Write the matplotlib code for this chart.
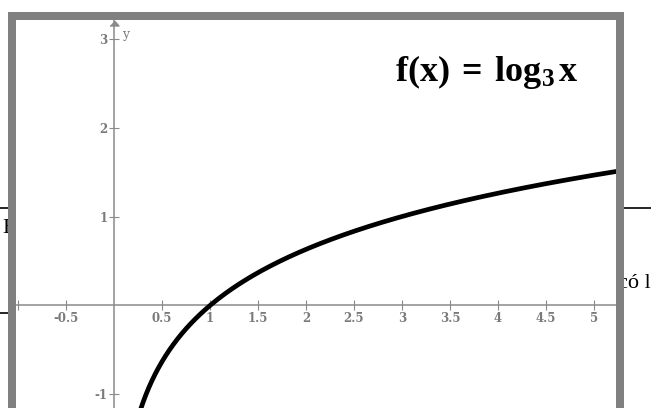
import numpy as np
import matplotlib
matplotlib.use("Agg")
import matplotlib.pyplot as plt
from matplotlib.patches import Rectangle
from matplotlib import transforms

# ---- data ---------------------------------------------------------------
base = 3
title_text = r"$\mathbf{f(x)\;=\;log_{3}\,x}$"
x_ticks = [-1, -0.5, 0.5, 1, 1.5, 2, 2.5, 3, 3.5, 4, 4.5, 5]
x_tick_labels = ["", "-0.5", "0.5", "1", "1.5", "2", "2.5", "3", "3.5", "4", "4.5", "5"]
y_ticks = [-1, 1, 2, 3]
y_tick_labels = ["-1", "1", "2", "3"]
x_range = (-1.0208, 5.2292)
y_range = (-1.1517, 3.2079)

# ---- style --------------------------------------------------------------
W, H = 651, 408
frame_color = "#808080"
axis_color = "#8a8a8a"
label_color = "#7a7a7a"

plt.rcParams["mathtext.fontset"] = "custom"
plt.rcParams["mathtext.rm"] = "Liberation Serif"
plt.rcParams["mathtext.bf"] = "Liberation Serif:bold"
plt.rcParams["mathtext.it"] = "Liberation Serif:italic"

fig = plt.figure(figsize=(W / 100, H / 100), dpi=100)
fig.patch.set_facecolor("white")

# page content behind the plot panel
bg = fig.add_axes([0, 0, 1, 1], zorder=0)
bg.set_xlim(0, W)
bg.set_ylim(H, 0)
bg.axis("off")
bg.plot([0, 9], [208, 208], color="black", lw=1.2)
bg.plot([622, W], [208, 208], color="black", lw=1.2)
bg.plot([0, 9], [313, 313], color="black", lw=1.2)
bg.text(2.5, 233, "E", family="Liberation Serif", fontsize=16, color="black",
        va="baseline", ha="left")
bg.text(618, 288, "có l", family="Liberation Serif", fontsize=16, color="black",
        va="baseline", ha="left")

# plot panel
ax = fig.add_axes([16 / W, 0, 600 / W, 388 / H], zorder=1)
ax.set_facecolor("white")
ax.set_xlim(*x_range)
ax.set_ylim(*y_range)

for side in ("top", "right"):
    ax.spines[side].set_visible(False)
ax.spines["bottom"].set_position(("data", 0))
ax.spines["left"].set_position(("data", 0))
for side in ("bottom", "left"):
    ax.spines[side].set_color(axis_color)
    ax.spines[side].set_linewidth(1.1)

ax.set_xticks(x_ticks)
ax.set_xticklabels(x_tick_labels)
ax.set_yticks(y_ticks)
ax.set_yticklabels(y_tick_labels)
ax.tick_params(axis="both", direction="inout", length=7, width=0.8,
               color=axis_color, labelcolor=label_color, labelsize=8.5)
ax.tick_params(axis="x", pad=1.5)
ax.tick_params(axis="y", pad=1)
for lab in ax.get_xticklabels() + ax.get_yticklabels():
    lab.set_family("DejaVu Serif")
    lab.set_fontweight("bold")

# arrow head at the top of the y axis
arrow_tr = transforms.offset_copy(ax.transData, fig=fig, x=0, y=-2.6, units="dots")
ax.plot([0], [y_range[1]], marker=[(-1, -0.55), (1, -0.55), (0, 0.55)],
        markersize=6.5, color=axis_color, transform=arrow_tr, clip_on=False, zorder=3)
ax.annotate("y", xy=(0, y_range[1]), xytext=(6, -13), textcoords="offset points",
            family="DejaVu Serif", fontsize=9, color=label_color,
            ha="left", va="baseline")

# the function curve
xs = np.linspace(0.2, 5.4, 800)
ys = np.log(xs) / np.log(base)
ax.plot(xs, ys, color="black", lw=3.4, solid_capstyle="round", zorder=4)

# title
ax.text(0.632, 0.843, title_text, transform=ax.transAxes, fontsize=26,
        color="black", ha="left", va="baseline")

# grey frame around the panel
top = fig.add_axes([0, 0, 1, 1], zorder=2)
top.set_xlim(0, W)
top.set_ylim(H, 0)
top.axis("off")
top.patch.set_alpha(0)
for (x0, y0, w, h) in [(8, 12, 616, 8), (8, 12, 8, H), (616, 12, 8, H)]:
    top.add_patch(Rectangle((x0, y0), w, h, facecolor=frame_color, edgecolor="none"))

fig.savefig("out.png", dpi=100)
